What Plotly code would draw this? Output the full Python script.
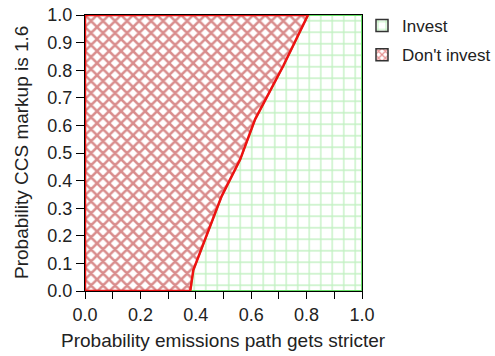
import plotly.graph_objects as go

# Boundary between "Don't invest" (left) and "Invest" (right)
boundary_x = [0.38, 0.391, 0.433, 0.493, 0.56, 0.614, 0.716, 0.805]
boundary_y = [0.0, 0.076, 0.185, 0.343, 0.476, 0.622, 0.816, 1.0]

series_names = ["Invest", "Don't invest"]
x_ticks = [0.0, 0.1, 0.2, 0.3, 0.4, 0.5, 0.6, 0.7, 0.8, 0.9, 1.0]
x_ticktext = ["0.0", "", "0.2", "", "0.4", "", "0.6", "", "0.8", "", "1.0"]
y_ticks = [0.0, 0.1, 0.2, 0.3, 0.4, 0.5, 0.6, 0.7, 0.8, 0.9, 1.0]

# polygons
invest_x = boundary_x + [1.0, 1.0, boundary_x[0]]
invest_y = boundary_y + [1.0, 0.0, 0.0]
dont_x = [0.0] + boundary_x + [0.0, 0.0]
dont_y = [0.0] + boundary_y + [1.0, 0.0]

green_pat = dict(shape="+", fgcolor="#84e284", bgcolor="white", size=11.5, solidity=0.22)
red_pat = dict(shape="x", fgcolor="#b31c1c", bgcolor="white", size=8.5, solidity=0.5)

fig = go.Figure()
fig.add_trace(go.Scatter(
    x=invest_x, y=invest_y, name=series_names[0], mode="lines", showlegend=False,
    fill="toself", fillcolor="white",
    line=dict(color="#66e066", width=2),
    fillpattern=green_pat,
))
fig.add_trace(go.Scatter(
    x=dont_x, y=dont_y, name=series_names[1], mode="lines", showlegend=False,
    fill="toself", fillcolor="white",
    line=dict(color="#ee1111", width=2.5),
    fillpattern=red_pat,
))
# legend entries
fig.add_trace(go.Bar(x=[None], y=[None], name=series_names[0], legendgroup="a",
                     marker=dict(color="white", pattern=dict(shape="+", fgcolor="#66dd66", size=12, solidity=0.2),
                                 line=dict(color="#333333", width=1.5))))
fig.add_trace(go.Bar(x=[None], y=[None], name=series_names[1], legendgroup="b",
                     marker=dict(color="white", pattern=dict(shape="x", fgcolor="#cc2222", size=6, solidity=0.45),
                                 line=dict(color="#333333", width=1.5))))

font = dict(family="Liberation Sans, Arial, sans-serif", color="#222222")
fig.update_layout(
    width=495, height=356,
    margin=dict(l=85, r=133, t=15, b=65),
    paper_bgcolor="white", plot_bgcolor="white",
    font=dict(size=18, **font),
    showlegend=True,
    legend=dict(xref="container", yref="container", x=362 / 495, y=1 - 8 / 356,
                xanchor="left", yanchor="top",
                font=dict(size=17, **font), tracegroupgap=4,
                bgcolor="rgba(0,0,0,0)"),
    xaxis=dict(range=[0, 1], tickvals=x_ticks, ticktext=x_ticktext,
               ticks="outside", ticklen=7, tickcolor="black",
               tickfont=dict(size=18, **font),
               showline=True, linecolor="black", linewidth=1, mirror=True,
               showgrid=False, zeroline=False, layer="below traces",
               automargin=False, fixedrange=True),
    yaxis=dict(range=[0, 1], tickvals=y_ticks, tickformat=".1f",
               ticks="outside", ticklen=8, tickcolor="black",
               tickfont=dict(size=18, **font),
               showline=True, linecolor="black", linewidth=1, mirror=True,
               showgrid=False, zeroline=False, layer="below traces",
               automargin=False, fixedrange=True),
    annotations=[
        dict(text="Probability emissions path gets stricter", xref="paper", yref="paper",
             x=0.5, y=-(340 - 291) / 276, xanchor="center", yanchor="middle",
             showarrow=False, font=dict(size=19, **font)),
        dict(text="Probability CCS markup is 1.6", xref="paper", yref="paper",
             x=-(85 - 21) / 277, y=0.5, xanchor="center", yanchor="middle", textangle=-90,
             showarrow=False, font=dict(size=19, **font)),
    ],
)
fig.write_html("out.html", config={"displayModeBar": False},
               post_script="document.body.style.margin='0px';")
